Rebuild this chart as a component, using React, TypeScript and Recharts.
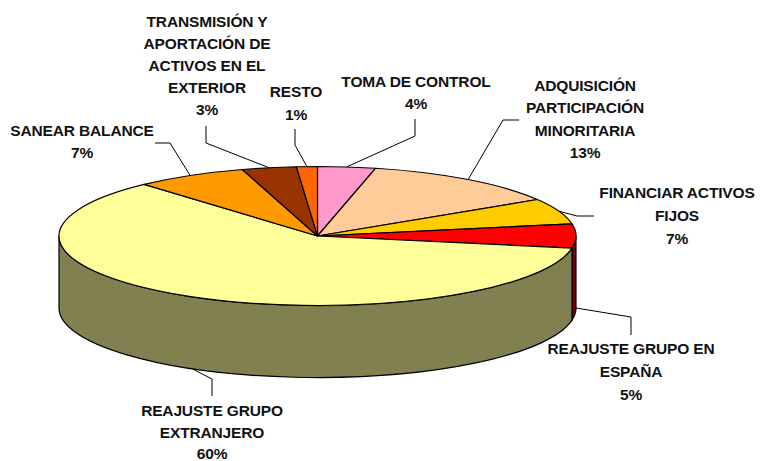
import { Pie, PieChart } from "recharts";

const categories = [
  ["TOMA DE CONTROL"],
  ["ADQUISICIÓN", "PARTICIPACIÓN", "MINORITARIA"],
  ["FINANCIAR ACTIVOS", "FIJOS"],
  ["REAJUSTE GRUPO EN", "ESPAÑA"],
  ["REAJUSTE GRUPO", "EXTRANJERO"],
  ["SANEAR BALANCE"],
  ["TRANSMISIÓN Y", "APORTACIÓN DE", "ACTIVOS EN EL", "EXTERIOR"],
  ["RESTO"],
];
// slice sizes as drawn in the picture, the printed labels are in printedShares
const sliceShares = [3.6, 12.6, 6.0, 5.6, 60.5, 7.0, 3.4, 1.3];
const printedShares = ["4%", "13%", "7%", "5%", "60%", "7%", "3%", "1%"];
const topColors = ["#FF99CC", "#FFCC99", "#FFCC00", "#FF0000", "#FFFF99", "#FF9900", "#993300", "#FF6600"];
const wallColors = ["#804D66", "#80664D", "#806600", "#800000", "#808050", "#804D00", "#4D1A00", "#803300"];

// label placement: centre x, first baseline y
const labelPlaces = [
  [416, 87],
  [585, 91],
  [677, 198],
  [631, 354],
  [212, 416],
  [82, 136],
  [207, 27],
  [296, 97],
];
const lineGaps = [22, 22.3, 23, 23, 21.7, 22, 22, 23];
// leader bends after leaving the pie edge
const leaderBends = [
  [[415, 136], [415, 119]],
  [[503, 120], [519, 120]],
  [[577, 216], [594, 216]],
  [[631, 317], [631, 335]],
  [[212, 379], [212, 396]],
  [[170, 143], [155, 143]],
  [[206, 143], [206, 126]],
  [[295, 145], [295, 129]],
];

const WIDTH = 761;
const HEIGHT = 461;
const CX = 317.5;
const CY = 236;
const RX = 258.5;
const RY = 69.5;
const DEPTH = 72;

const rad = (deg: number) => (deg * Math.PI) / 180;
const edgeX = (cx: number, rx: number, deg: number) => cx + rx * Math.cos(rad(deg));
const edgeY = (cy: number, deg: number) => cy - RY * Math.sin(rad(deg));

const data = categories.map((lines, i) => ({
  name: lines.join(" "),
  value: sliceShares[i],
  fill: topColors[i],
}));

function TiltedSlice(props: any) {
  const { cx, cy, outerRadius: rx, startAngle, endAngle, index } = props;
  const i = index ?? topColors.indexOf(props.fill);
  const x1 = edgeX(cx, rx, startAngle);
  const y1 = edgeY(cy, startAngle);
  const x2 = edgeX(cx, rx, endAngle);
  const y2 = edgeY(cy, endAngle);
  const large = startAngle - endAngle > 180 ? 1 : 0;

  // the wall only shows along the front half of the ellipse
  const wallStart = Math.min(startAngle, 0);
  const wallEnd = Math.max(endAngle, -180);
  let wall = null;
  if (wallStart > wallEnd) {
    const wx1 = edgeX(cx, rx, wallStart);
    const wy1 = edgeY(cy, wallStart);
    const wx2 = edgeX(cx, rx, wallEnd);
    const wy2 = edgeY(cy, wallEnd);
    wall = (
      <path
        d={`M${wx1},${wy1} A${rx},${RY} 0 0 1 ${wx2},${wy2} L${wx2},${wy2 + DEPTH} A${rx},${RY} 0 0 0 ${wx1},${wy1 + DEPTH} Z`}
        fill={wallColors[i]}
        stroke="#000"
        strokeWidth={1.2}
      />
    );
  }
  return (
    <g>
      {wall}
      <path
        d={`M${cx},${cy} L${x1},${y1} A${rx},${RY} 0 ${large} 1 ${x2},${y2} Z`}
        fill={props.fill}
        stroke="#000"
        strokeWidth={1.2}
        strokeLinejoin="round"
      />
    </g>
  );
}

function SliceLabel(props: any) {
  const i = props.index;
  const [x, y] = labelPlaces[i];
  const gap = lineGaps[i];
  const lines = [...categories[i], printedShares[i]];
  return (
    <text
      x={x}
      y={y}
      textAnchor="middle"
      fontFamily="'Liberation Sans', Arial, sans-serif"
      fontWeight="bold"
      fontSize={15.5}
      letterSpacing={-0.15}
      fill="#111"
    >
      {lines.map((line, n) => (
        <tspan key={n} x={x} y={y + n * gap}>
          {line}
        </tspan>
      ))}
    </text>
  );
}

function LeaderLine(props: any) {
  const i = props.index;
  const mid = props.midAngle;
  const x = edgeX(CX, RX, mid);
  const front = Math.sin(rad(mid)) < 0.05;
  const y = edgeY(CY, mid) + (front ? DEPTH : 0);
  const pts = [[x, y], ...leaderBends[i]].map((p) => p.join(",")).join(" ");
  return <polyline points={pts} fill="none" stroke="#000" strokeWidth={1} />;
}

export default function App() {
  return (
    <div style={{ position: "absolute", left: 0, top: 0, width: WIDTH, height: HEIGHT, background: "#fff" }}>
      <PieChart width={WIDTH} height={HEIGHT} margin={{ top: 0, right: 0, bottom: 0, left: 0 }}>
        <Pie
          data={data}
          dataKey="value"
          nameKey="name"
          cx={CX}
          cy={CY}
          innerRadius={0}
          outerRadius={RX}
          startAngle={90}
          endAngle={-270}
          paddingAngle={0}
          isAnimationActive={false}
          shape={TiltedSlice}
          label={SliceLabel}
          labelLine={LeaderLine}
        />
      </PieChart>
    </div>
  );
}
